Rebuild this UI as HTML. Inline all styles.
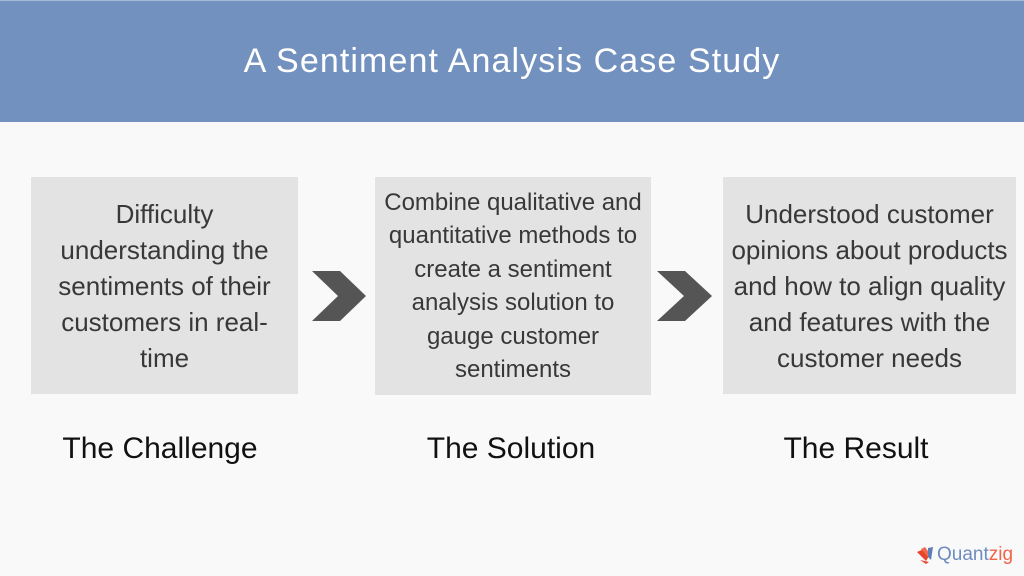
<!DOCTYPE html>
<html>
<head>
<meta charset="utf-8">
<style>
  html,body{margin:0;padding:0;}
  body{width:1024px;height:576px;overflow:hidden;background:#f9f9f9;position:relative;font-family:"Liberation Sans",Arial,sans-serif;}
  .hdr{position:absolute;left:0;top:0;width:1024px;height:122px;background:#7391be;border-top:1px solid #a7b9d9;box-sizing:border-box;}
  .title{position:absolute;left:0;top:44px;width:1024px;text-align:center;color:#ffffff;font-size:34px;line-height:34px;letter-spacing:1.1px;white-space:nowrap;}
  .box{position:absolute;background:#e3e3e3;display:flex;align-items:center;justify-content:center;text-align:center;color:#383838;white-space:nowrap;}
  .b1{left:31px;top:177px;width:267px;height:217px;font-size:26px;line-height:36px;}
  .b2{left:375px;top:177px;width:276px;height:218px;font-size:24px;line-height:33.5px;}
  .b3{left:723px;top:177px;width:293px;height:217px;font-size:26px;line-height:36px;}
  .lbl{position:absolute;top:434px;width:300px;text-align:center;font-size:30px;line-height:30px;color:#111;white-space:nowrap;}
  .logo{position:absolute;left:937px;top:545px;font-size:19px;line-height:20px;white-space:nowrap;}
</style>
</head>
<body>
<div class="hdr"></div>
<div class="title">A Sentiment Analysis Case Study</div>

<div class="box b1"><div>Difficulty<br>understanding the<br>sentiments of their<br>customers in real-<br>time</div></div>
<div class="box b2"><div>Combine qualitative and<br>quantitative methods to<br>create a sentiment<br>analysis solution to<br>gauge customer<br>sentiments</div></div>
<div class="box b3"><div>Understood customer<br>opinions about products<br>and how to align quality<br>and features with the<br>customer needs</div></div>

<svg width="1024" height="576" style="position:absolute;left:0;top:0" xmlns="http://www.w3.org/2000/svg">
  <polygon points="312,271 340,271 366,296 340,321 312,321 338,296" fill="#555555"/>
  <polygon points="657,271 685,271 712,296 685,321 657,321 684,296" fill="#555555"/>
  <polygon points="917,552 924,549 929,556 926,561" fill="#e8452c"/>
  <polygon points="921,549 925,547 930,554 928,557" fill="#f06a4e"/>
  <polygon points="928,548 933,547 931,560 928,557" fill="#5d7fb8"/>
  <polygon points="920,560 929,562 926,564" fill="#e8452c"/>
</svg>

<div class="lbl" style="left:10px">The Challenge</div>
<div class="lbl" style="left:361px">The Solution</div>
<div class="lbl" style="left:706px">The Result</div>

<div class="logo"><span style="color:#6d8cc2">Quant</span><span style="color:#f0644a">zig</span></div>
</body>
</html>
